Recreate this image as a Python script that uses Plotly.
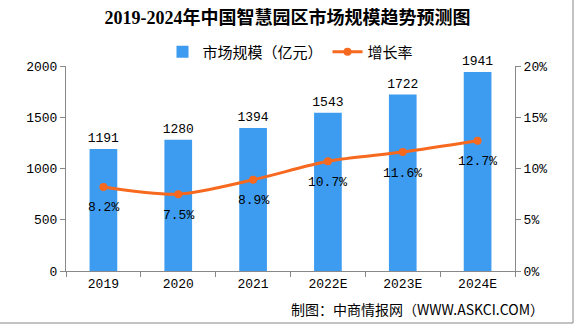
import plotly.graph_objects as go

categories = ["2019", "2020", "2021", "2022E", "2023E", "2024E"]
market_size = [1191, 1280, 1394, 1543, 1722, 1941]
growth_rate = [8.2, 7.5, 8.9, 10.7, 11.6, 12.7]
growth_labels = ["8.2%", "7.5%", "8.9%", "10.7%", "11.6%", "12.7%"]

W, H = 575, 326
L, R, T, B = 66, 60, 66, 55
pw, ph = W - L - R, H - T - B

def px(x):
    return (x - L) / pw

def py(y):
    return (H - B - y) / ph

num_font = dict(family="Liberation Mono, DejaVu Sans Mono, monospace", size=13, color="#000000")
cjk_font = "Noto Sans CJK SC, sans-serif"

fig = go.Figure()
fig.add_trace(go.Bar(
    x=categories, y=market_size, name="市场规模（亿元）",
    marker=dict(color="#3D9CF0", line=dict(width=0)),
    text=[str(v) for v in market_size], textposition="outside",
    textfont=num_font, cliponaxis=False, constraintext="none",
))
fig.add_trace(go.Scatter(
    x=categories, y=growth_rate, name="增长率", yaxis="y2",
    mode="lines+markers",
    line=dict(color="#F7691E", width=3, shape="spline", smoothing=0.8),
    marker=dict(color="#F7691E", size=8),
    cliponaxis=False,
))

annotations = [
    dict(text=lab, x=i, y=v, xref="x", yref="y2", yshift=-21,
         showarrow=False, font=num_font, xanchor="center", yanchor="middle")
    for i, (v, lab) in enumerate(zip(growth_rate, growth_labels))
]
annotations.append(
    dict(text="制图：中商情报网（WWW.ASKCI.COM）", xref="paper", yref="paper",
         x=px(546), y=py(309), xanchor="right", yanchor="middle",
         showarrow=False, font=dict(family=cjk_font, size=14, color="#000000"))
)

axis_common = dict(
    showline=True, linecolor="#888888", linewidth=1,
    ticks="outside", tickcolor="#888888", ticklen=5,
    showgrid=False, zeroline=False,
    tickfont=num_font,
)

fig.update_layout(
    width=W, height=H,
    margin=dict(l=L, r=R, t=T, b=B),
    paper_bgcolor="white", plot_bgcolor="white",
    bargap=0.63,
    title=dict(
        text="<b>2019-2024年中国智慧园区市场规模趋势预测图</b>",
        x=0.5, xanchor="center", y=1 - 18 / H, yanchor="middle",
        font=dict(family="Liberation Serif, Noto Sans CJK SC, serif", size=18, color="#000000"),
    ),
    xaxis=dict(**axis_common, type="category", range=[-0.5, 5.5], tickson="boundaries"),
    yaxis=dict(**axis_common, range=[0, 2000], dtick=500),
    yaxis2=dict(**axis_common, overlaying="y", side="right", range=[0, 20],
                dtick=5, ticksuffix="%"),
    legend=dict(
        orientation="h", x=0.5, xanchor="center", y=py(52), yanchor="middle",
        font=dict(family=cjk_font, size=15, color="#000000"),
        bgcolor="rgba(0,0,0,0)", itemwidth=30,
    ),
    showlegend=True,
    annotations=annotations,
    shapes=[
        dict(type="line", xref="paper", yref="paper", x0=px(573), x1=px(573),
             y0=py(0), y1=py(323), line=dict(color="#888888", width=1)),
        dict(type="line", xref="paper", yref="paper", x0=px(0), x1=px(573),
             y0=py(323), y1=py(323), line=dict(color="#888888", width=1)),
    ],
)

fig.write_html("out.html")
